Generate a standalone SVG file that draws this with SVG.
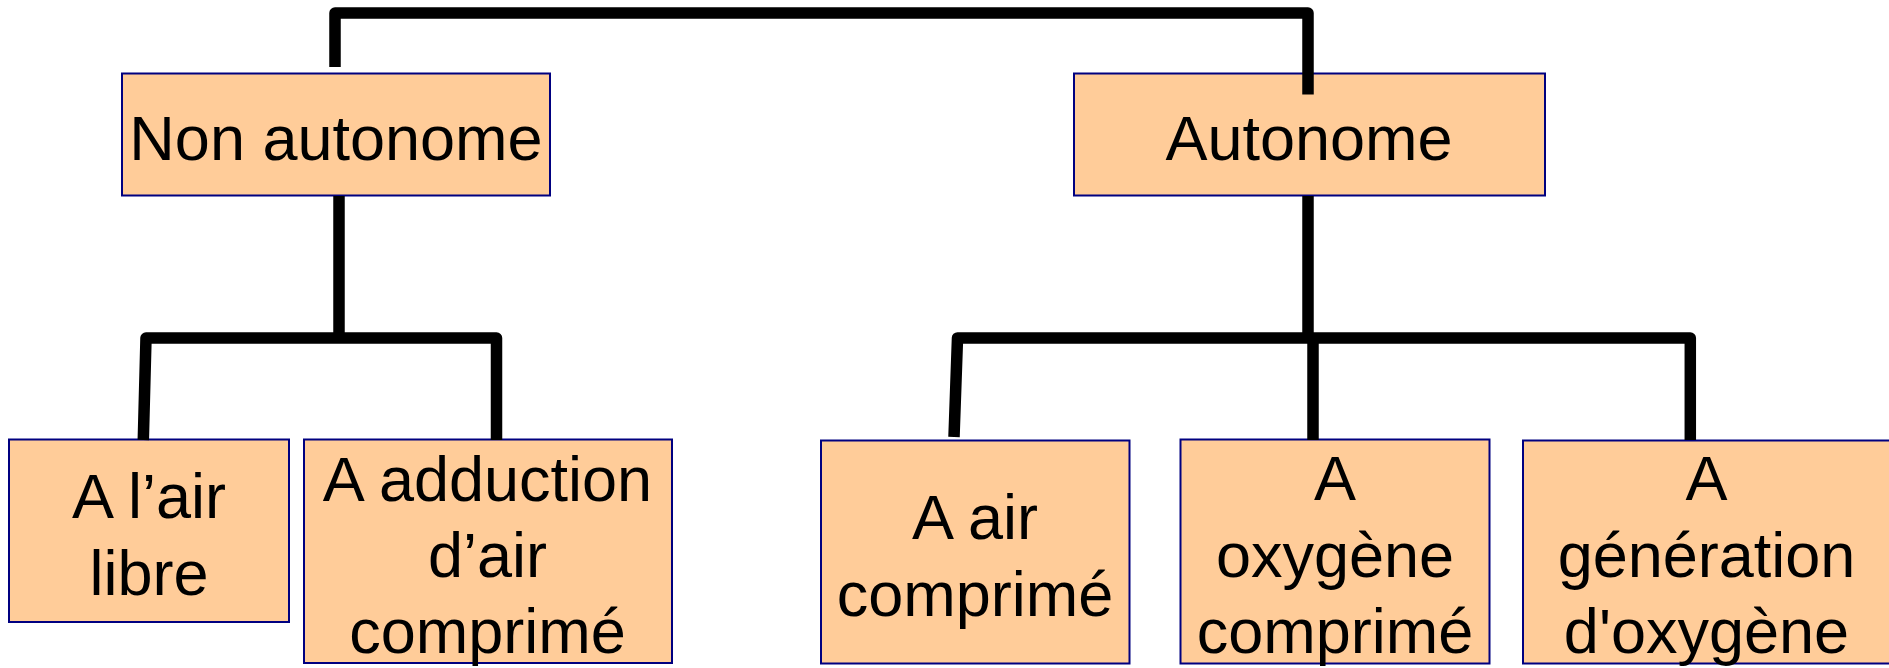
<svg xmlns="http://www.w3.org/2000/svg" width="1889" height="668" viewBox="0 0 1889 668">
<style>
.box{fill:#FFCC99;stroke:#000080;stroke-width:2}
.t{font-family:"Liberation Sans",Arial,sans-serif;font-size:63px;fill:#000;text-anchor:middle}
.c{fill:none;stroke:#000;stroke-width:11.5;stroke-linejoin:round;stroke-linecap:butt}
</style>
<rect width="1889" height="668" fill="#fff"/>
<g id="n1"><rect class="box" x="122" y="73.5" width="428" height="122"/><text class="t" x="336" y="160">Non autonome</text></g>
<g id="n2"><rect class="box" x="1074" y="73.5" width="471" height="122"/><text class="t" x="1309" y="160">Autonome</text></g>
<g id="n3"><rect class="box" x="9" y="439.5" width="280" height="182.5"/><text class="t" x="149" y="518">A l’air</text><text class="t" x="149" y="595">libre</text></g>
<g id="n4"><rect class="box" x="304" y="439.5" width="368" height="223.5"/><text class="t" x="487.5" y="501">A adduction</text><text class="t" x="487.5" y="577">d’air</text><text class="t" x="487.5" y="653">comprimé</text></g>
<g id="n5"><rect class="box" x="821" y="440.5" width="308.5" height="223"/><text class="t" x="975" y="539">A air</text><text class="t" x="975" y="615.5">comprimé</text></g>
<g id="n6"><rect class="box" x="1180.5" y="439.5" width="309" height="224"/><text class="t" x="1335" y="500">A</text><text class="t" x="1335" y="576.5">oxygène</text><text class="t" x="1335" y="653">comprimé</text></g>
<g id="n7"><rect class="box" x="1523" y="440.5" width="367" height="223"/><text class="t" x="1706.5" y="500">A</text><text class="t" x="1706.5" y="576.5">génération</text><text class="t" x="1706.5" y="653">d'oxygène</text></g>
<g id="connectors">
<path class="c" d="M335,67 V13 H1308 V94.5"/>
<path class="c" d="M339,196 V338"/>
<path class="c" d="M143.3,440 L146,338 H496.5 V440"/>
<path class="c" d="M1308,196 V338"/>
<path class="c" d="M954,437 L957.5,338 H1690.3 V440"/>
<path class="c" d="M1313,338 V440"/>
</g>
</svg>
